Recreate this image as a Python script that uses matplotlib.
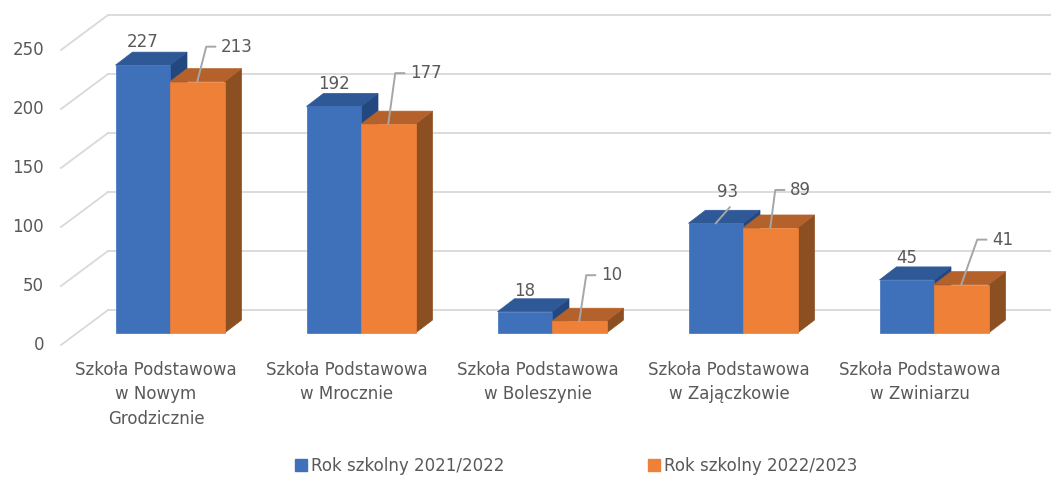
import matplotlib
matplotlib.use("Agg")
import matplotlib.pyplot as plt
from matplotlib.patches import Polygon
from matplotlib.lines import Line2D

# dane
categories = ["Szkoła Podstawowa\nw Nowym\nGrodzicznie",
              "Szkoła Podstawowa\nw Mrocznie",
              "Szkoła Podstawowa\nw Boleszynie",
              "Szkoła Podstawowa\nw Zajączkowie",
              "Szkoła Podstawowa\nw Zwiniarzu"]
series_names = ["Rok szkolny 2021/2022", "Rok szkolny 2022/2023"]
values_2122 = [227, 192, 18, 93, 45]
values_2223 = [213, 177, 10, 89, 41]
y_ticks = [0, 50, 100, 150, 200, 250]

# przesunięcia etykiet (px, od środka górnej krawędzi słupka), leader = czy z linią
label_off_2122 = [(0, -23), (0, -22), (0, -21), (12, -31), (0, -22)]
leader_2122 = [False, False, False, True, False]
label_off_2223 = [(9, -35), (7, -51), (7, -46), (5, -38), (16, -45)]

# kolory (front, góra, bok)
blue = ("#3F70BA", "#2F5897", "#234880")
orange = ("#EF8038", "#B4612B", "#8C4F22")
grid_col = "#D9D9D9"
text_col = "#595959"

W, H = 1051, 482
PX_X = 191.0     # px na kategorię
PX_Y = 1.18      # px na jednostkę
X0, Y0 = 170, 333  # środek 1. grupy, podstawa słupków (px)
BAR_W = 54.5 / PX_X
DEPTH = (17, -13)       # głębokość słupka (px)
WALL = (30, -23)        # tylna ściana względem frontu słupków
FRONT = (-15, 12)       # przednia krawędź podłogi


def d(dx, dy):
    # offset w px -> jednostki danych
    return dx / PX_X, -dy / PX_Y


fig = plt.figure(figsize=(W / 100, H / 100), dpi=100)
ax = fig.add_axes([0, 0, 1, 1])
ax.set_xlim(-X0 / PX_X, (W - X0) / PX_X)
ax.set_ylim(-(H - Y0) / PX_Y, Y0 / PX_Y)
ax.axis("off")

# siatka: ściana tylna + ukośne linie boczne
wx, wy = d(*WALL)
fx, fy = d(*FRONT)
left_front = (61 - X0) / PX_X
left_back = (108 - X0) / PX_X
for t in y_ticks:
    ax.plot([left_back, ax.get_xlim()[1]], [t + wy, t + wy], color=grid_col, lw=1.3, zorder=1)
    ax.plot([left_front, left_back], [t + fy, t + wy], color=grid_col, lw=1.3, zorder=1)
    ax.text((44 - X0) / PX_X, t + fy, str(t), ha="right", va="center",
            fontsize=12, color=text_col)

ddx, ddy = d(*DEPTH)


def bar3d(x, w, v, cols):
    front = [(x, 0), (x + w, 0), (x + w, v), (x, v)]
    top = [(x, v), (x + w, v), (x + w + ddx, v + ddy), (x + ddx, v + ddy)]
    side = [(x + w, 0), (x + w + ddx, ddy), (x + w + ddx, v + ddy), (x + w, v)]
    for poly, c in ((side, cols[2]), (top, cols[1]), (front, cols[0])):
        ax.add_patch(Polygon(poly, closed=True, facecolor=c, edgecolor=c, lw=0.5, zorder=3))


for i in range(len(categories)):
    bar3d(i - BAR_W, BAR_W, values_2122[i], blue)
    bar3d(i, BAR_W, values_2223[i], orange)

# etykiety wartości
for i in range(len(categories)):
    # seria 1
    cx = i - BAR_W / 2
    v = values_2122[i]
    ox, oy = d(*label_off_2122[i])
    if leader_2122[i]:
        lx, ly = d(*(label_off_2122[i][0] + 2, label_off_2122[i][1] + 15))
        ax.plot([cx, cx + lx], [v, v + ly], color="#A6A6A6", lw=1.4, zorder=4)
    ax.text(cx + ox, v + oy, str(v), ha="center", va="center", fontsize=12,
            color=text_col, zorder=5)
    # seria 2 z linią odniesienia
    cx = i + BAR_W / 2
    v = values_2223[i]
    ox, oy = d(*label_off_2223[i])
    hx, _ = d(9, 0)
    ax.plot([cx, cx + ox, cx + ox + hx], [v, v + oy, v + oy], color="#A6A6A6",
            lw=1.4, zorder=4)
    ax.text(cx + ox + hx + d(6, 0)[0], v + oy, str(v), ha="left", va="center",
            fontsize=12, color=text_col, zorder=5)

# etykiety kategorii
for i, c in enumerate(categories):
    ax.text(i + d(-14, 0)[0], -(361 - Y0) / PX_Y, c, ha="center", va="top",
            fontsize=12, color=text_col, linespacing=1.45)

handles = [Line2D([], [], marker="s", ls="", markersize=8, color=blue[0]),
           Line2D([], [], marker="s", ls="", markersize=8, color=orange[0])]
leg = fig.legend(handles, series_names, loc="center", bbox_to_anchor=(575 / W, 1 - 466 / H),
                 ncol=2, frameon=False, fontsize=12, handletextpad=0.1,
                 columnspacing=8.5, handlelength=1.0)
for t in leg.get_texts():
    t.set_color(text_col)

fig.savefig("out.png", dpi=100)
